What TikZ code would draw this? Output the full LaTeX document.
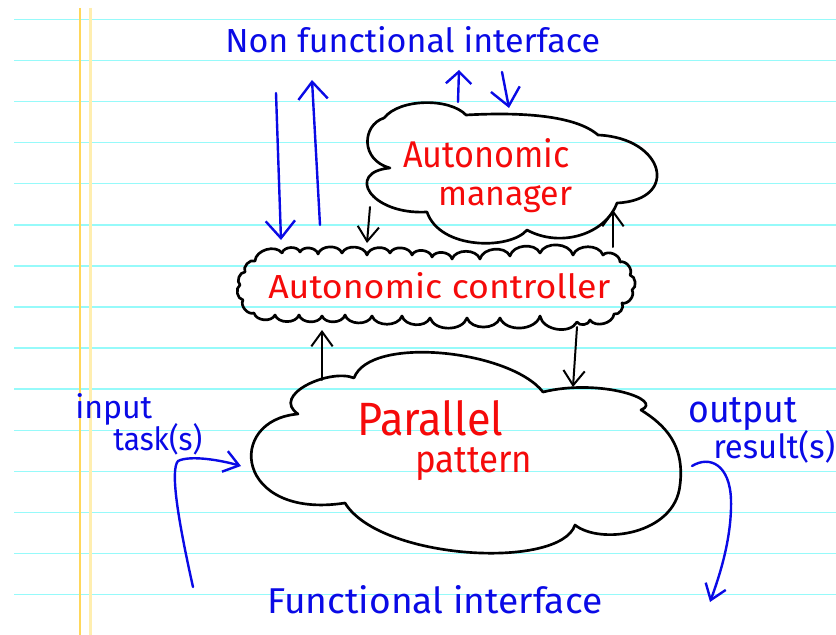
\documentclass[tikz,border=0pt]{standalone}
\usepackage{fontspec}
\setmainfont{Fira Sans}
\usepackage{graphicx}
\usetikzlibrary{arrows.meta}
\definecolor{rulecol}{RGB}{150,250,250}
\definecolor{marginA}{RGB}{255,215,90}
\definecolor{marginB}{RGB}{255,238,175}
\definecolor{ink}{RGB}{10,10,230}
\definecolor{redink}{RGB}{245,10,10}
\newcommand\hwtext[3]{\resizebox{#1}{#2}{#3}}
\begin{document}
\begin{tikzpicture}[x=0.75pt,y=-0.75pt,
  txt/.style={inner sep=0pt, anchor=base west},
  bluetxt/.style={txt, text=ink},
  redtxt/.style={txt, text=redink},
  cloudline/.style={draw=black, line width=2pt, line join=round, line cap=round},
  blueline/.style={draw=ink, line width=1.8pt, line cap=round, line join=round},
  blackline/.style={draw=black, line width=1.5pt, line cap=round, line join=round},
  bigtip/.style={-{Straight Barb[length=13pt,width=22pt]}},
  smalltip/.style={-{Straight Barb[length=9pt,width=19pt]}},
  blacktip/.style={-{Straight Barb[length=11pt,width=16pt]}},
  ruleline/.style={draw=rulecol, line width=1.1pt}
]
\useasboundingbox (0,0) rectangle (836,635);
\fill[white] (0,0) rectangle (836,635);
% lined paper
\foreach \k in {0,...,14}{
  \draw[ruleline] (14,{19.3+41.1*\k}) -- (836,{19.3+41.1*\k});
}
\draw[draw=marginA, line width=1pt] (80,8) -- (80,635);
\draw[draw=marginB, line width=1.6pt] (90.5,8) -- (90.5,635);

% ---- texts
\node[bluetxt] (nfi) at (225,53) {\hwtext{281pt}{19.5pt}{Non functional interface}};
\node[redtxt] (mgrA) at (403,167) {\hwtext{125pt}{21.75pt}{Autonomic}};
\node[redtxt] (mgrB) at (438,205) {\hwtext{100.5pt}{15pt}{manager}};
\node[redtxt] (ctl) at (268,298) {\hwtext{256.5pt}{19.5pt}{Autonomic controller}};
\node[redtxt] (parA) at (357,435) {\hwtext{109.5pt}{26.25pt}{Parallel}};
\node[redtxt] (parB) at (415,472) {\hwtext{87.75pt}{18.75pt}{pattern}};
\node[bluetxt] (inA) at (75,418) {\hwtext{57.75pt}{18.75pt}{input}};
\node[bluetxt] (inB) at (113,450) {\hwtext{66.75pt}{20.25pt}{task(s)}};
\node[bluetxt] (outA) at (688,422) {\hwtext{81.75pt}{18.75pt}{output}};
\node[bluetxt] (outB) at (713,458) {\hwtext{91.5pt}{21pt}{result(s)}};
\node[bluetxt] (fi) at (267,613) {\hwtext{251.25pt}{21pt}{Functional interface}};

% ---- clouds
% autonomic manager
\draw[cloudline] (384,118) .. controls (400,98) and (450,98) .. (466,115)
  .. controls (520,112) and (575,115) .. (598,135)
  .. controls (665,138) and (680,200) .. (617,203)
  .. controls (605,235) and (560,248) .. (527,230)
  .. controls (510,250) and (440,250) .. (427,212)
  .. controls (370,215) and (345,172) .. (390,168)
  .. controls (360,160) and (362,125) .. (384,118);
% autonomic controller
\draw[cloudline, bend left=70]
  (282,253) to (300,252) to (318,254) to (342,253) to (367,255) to (390,253)
  to (412,255) to (432,257) to (452,259) to (480,259) to (510,256) to (540,253)
  to (573,255) to (603,255)
  to (620,262) to (630,275) to (632,290) to (622,303) to (614,314)
  to (590,320) to (577,322) to (540,316) to (500,318) to (467,318) to (430,318)
  to (402,316) to (372,316) to (345,315) to (322,316) to (299,315) to (275,315)
  to (254,313)
  to (243,300) to (240,285) to (245,272) to (255,261) to (282,253);
% parallel pattern
\draw[cloudline] (354,378) .. controls (330,368) and (270,395) .. (298,414)
  .. controls (225,420) and (235,520) .. (345,503)
  .. controls (380,560) and (560,570) .. (575,525)
  .. controls (600,545) and (675,535) .. (680,485)
  .. controls (685,445) and (665,425) .. (641,410)
  .. controls (665,400) and (600,378) .. (543,392)
  .. controls (510,350) and (370,335) .. (354,378);

% ---- connector end points
\coordinate (b1s) at (276,93);  \coordinate (b1e) at (281,240);
\coordinate (b2s) at (320,225); \coordinate (b2e) at (312,80);
\coordinate (b3s) at (458,102); \coordinate (b3e) at (459,70);
\coordinate (b4s) at (502,72);  \coordinate (b4e) at (509,108);
\coordinate (k1s) at (370,207); \coordinate (k1e) at (367,243);
\coordinate (k2s) at (613,247); \coordinate (k2e) at (613,210);
\coordinate (k3s) at (322,380); \coordinate (k3e) at (322,330);
\coordinate (k4s) at (577,327); \coordinate (k4e) at (573,387);
\coordinate (ins) at (193,587); \coordinate (inm) at (178,461); \coordinate (ine) at (241,466);
\coordinate (outs) at (692,466); \coordinate (outm) at (731,500); \coordinate (oute) at (710,602);

% ---- blue connectors
\draw[blueline, bigtip] (b1s) -- (b1e);
\draw[blueline, bigtip] (b2s) -- (b2e);
\draw[blueline, smalltip] (b3s) -- (b3e);
\draw[blueline, bigtip] (b4s) -- (b4e);
\draw[blueline, blacktip] (ins) .. controls (178,520) and (170,470) .. (inm)
  .. controls (190,455) and (220,460) .. (ine);
\draw[blueline, blacktip] (outs) .. controls (710,455) and (730,465) .. (outm)
  .. controls (732,540) and (718,580) .. (oute);

% ---- black connectors
\draw[blackline, blacktip] (k1s) -- (k1e);
\draw[blackline, blacktip] (k2s) -- (k2e);
\draw[blackline, blacktip] (k3s) -- (k3e);
\draw[blackline, blacktip] (k4s) -- (k4e);
\end{tikzpicture}
\end{document}
